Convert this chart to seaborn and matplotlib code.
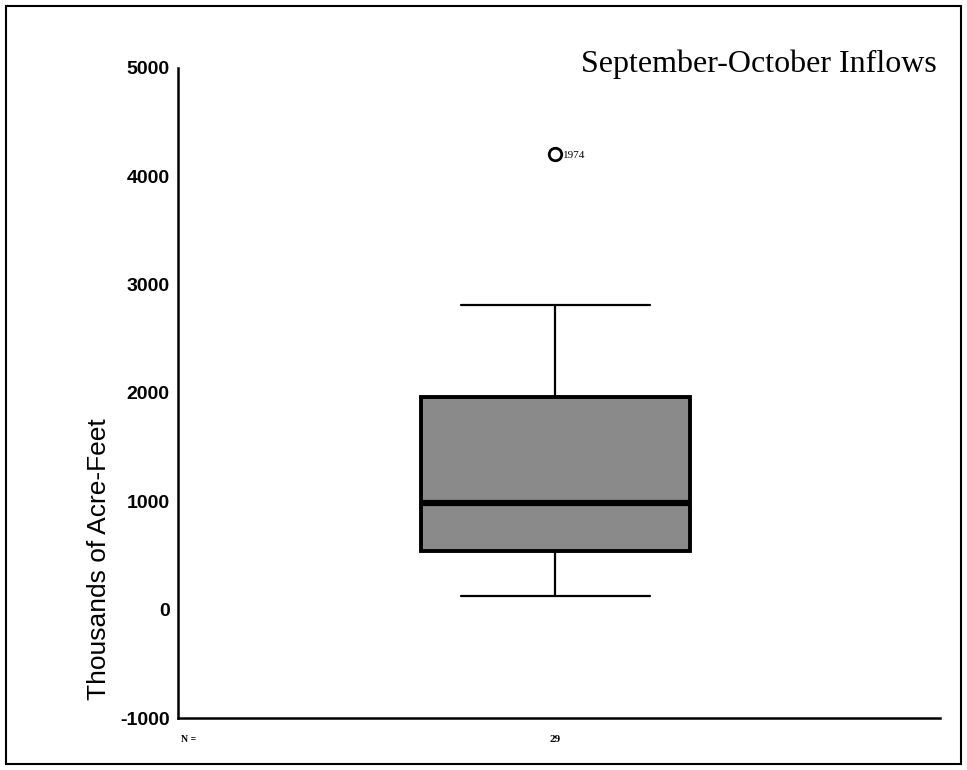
import matplotlib
matplotlib.use("Agg")
import matplotlib.pyplot as plt
import seaborn as sns
import pandas as pd
from matplotlib.patches import Rectangle

# Box summary (thousands of acre-feet)
group = "Sep-Oct"
n_obs = 29
whisker_low = 130
q1 = 540
median = 980
q3 = 1960
whisker_high = 2810
outlier_values = [4200]
outlier_labels = ["1974"]
y_ticks = [-1000, 0, 1000, 2000, 3000, 4000, 5000]

# Build a sample whose quartiles / whiskers reproduce the summary above
points = [whisker_low, q1, q1, median, median, q3, q3, whisker_high] + outlier_values
df = pd.DataFrame({"group": group, "inflow": points})

sns.set_theme(style="white")
plt.rcParams["font.family"] = ["Liberation Sans", "DejaVu Sans"]
plt.rcParams["text.color"] = "black"
plt.rcParams["axes.labelcolor"] = "black"
plt.rcParams["xtick.color"] = "black"
plt.rcParams["ytick.color"] = "black"

fig = plt.figure(figsize=(9.67, 7.70), dpi=100)
ax = fig.add_axes([0.184, 0.0675, 0.788, 0.8445])

sns.boxplot(
    data=df, x="group", y="inflow", ax=ax, width=0.353, whis=1.5,
    color="#8a8a8a", saturation=1,
    boxprops=dict(edgecolor="black", linewidth=2.8),
    medianprops=dict(color="black", linewidth=4.5),
    whiskerprops=dict(color="black", linewidth=1.6),
    capprops=dict(color="black", linewidth=1.6),
    flierprops=dict(marker="o", markersize=9, markerfacecolor="white",
                    markeredgecolor="black", markeredgewidth=2),
)

# widen whisker caps to ~70% of the box
for line in ax.lines:
    xd = list(line.get_xdata())
    yd = list(line.get_ydata())
    if len(xd) == 2 and yd[0] == yd[1] and yd[0] in (whisker_low, whisker_high):
        c = (xd[0] + xd[1]) / 2
        line.set_xdata([c - 0.124, c + 0.124])

for v, lab in zip(outlier_values, outlier_labels):
    ax.annotate(lab, (0, v), xytext=(6, -1), textcoords="offset points",
                fontsize=8, family="Liberation Serif", va="center")

ax.set_xlim(-0.495, 0.505)
ax.set_ylim(-1000, 5000)
ax.set_yticks(y_ticks)
ax.set_yticklabels([str(t) for t in y_ticks], fontsize=14, fontweight="bold")
ax.set_xticks([0])
ax.set_xticklabels([str(n_obs)], fontsize=8, family="Liberation Serif",
                   fontweight="bold")
ax.tick_params(axis="y", length=4, width=2.5, direction="out", pad=2)
ax.tick_params(axis="x", length=4, width=2.5, direction="out", pad=8)
ax.set_xlabel("")
ax.set_ylabel("Thousands of Acre-Feet", fontsize=19)
ax.yaxis.set_label_coords(-0.088, 0.245)

for s in ["top", "right"]:
    ax.spines[s].set_visible(False)
for s in ["left", "bottom"]:
    ax.spines[s].set_color("black")
    ax.spines[s].set_linewidth(1.8)

fig.text(0.187, 0.040, "N =", fontsize=7, family="Liberation Serif",
         fontweight="bold", va="center", ha="left")
fig.text(0.969, 0.917, "September-October Inflows", fontsize=23,
         family="Liberation Serif", ha="right", va="center")

# outer frame
fig.patches.append(Rectangle((0.006, 0.008), 0.988, 0.984, transform=fig.transFigure,
                             fill=False, edgecolor="black", linewidth=1.5))

fig.savefig("out.png", dpi=100)
